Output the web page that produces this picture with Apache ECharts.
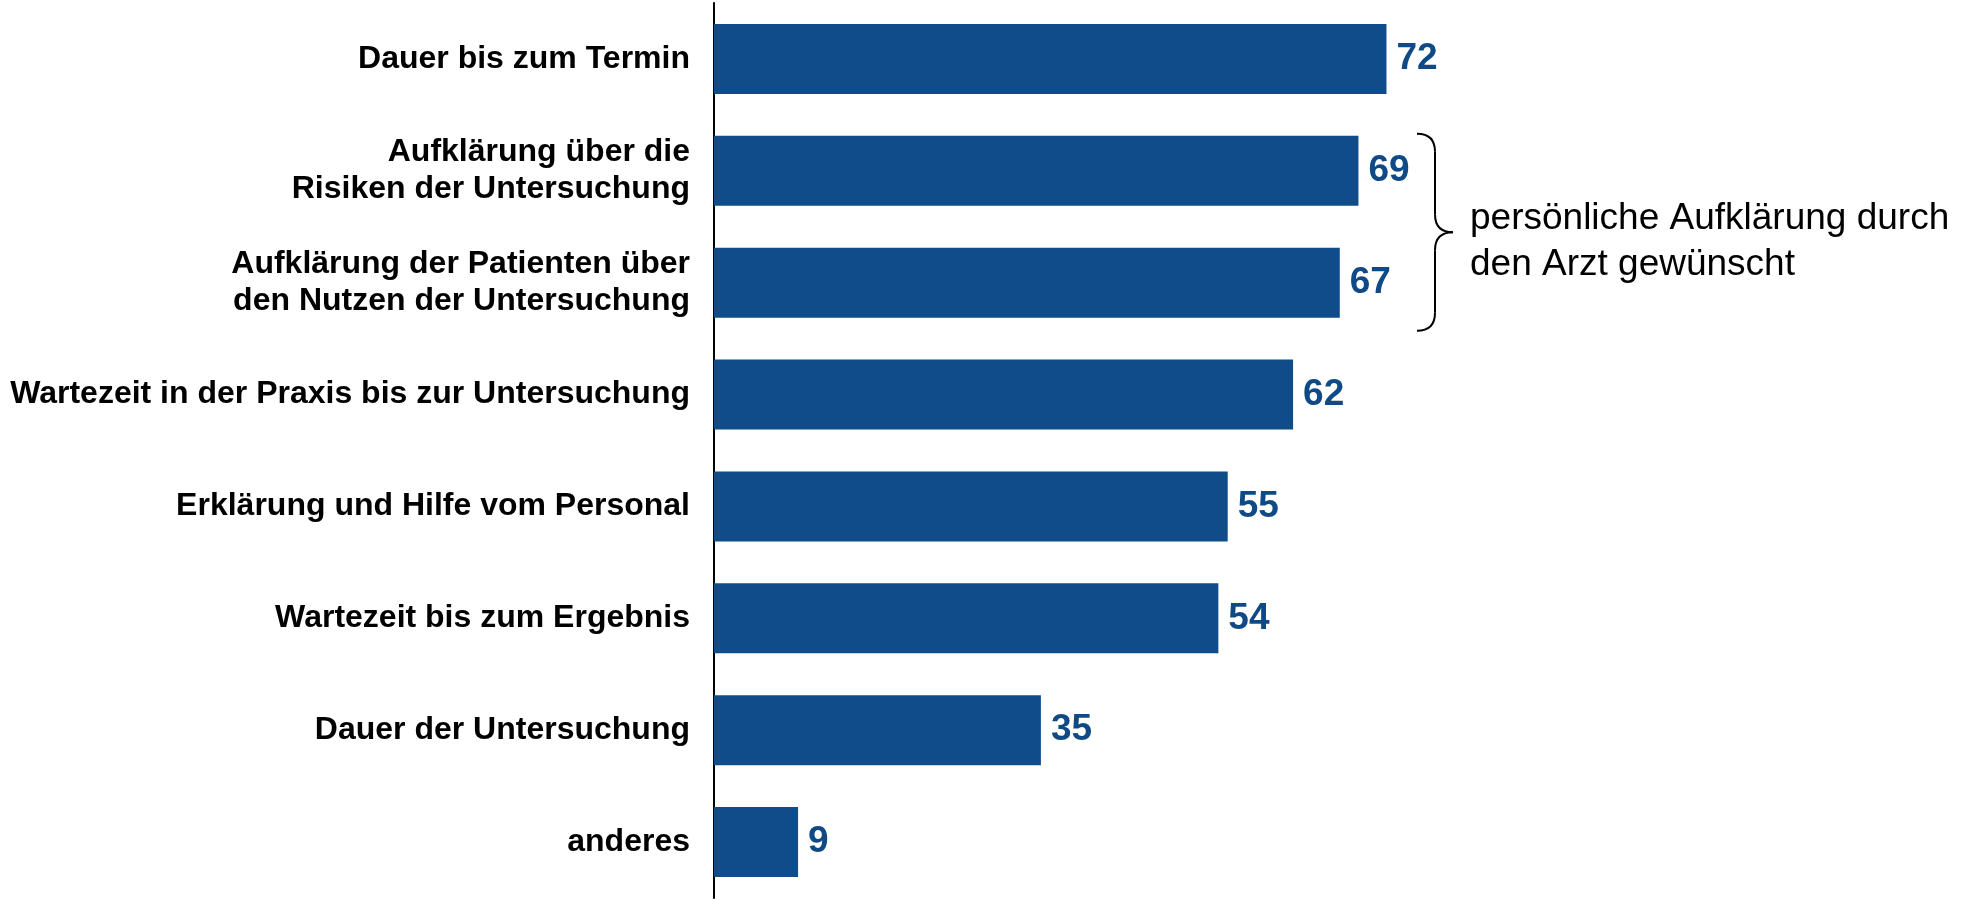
<!DOCTYPE html>
<html lang="de">
  <head>
    <meta charset="UTF-8" />
    <title>Wünsche an die Untersuchung</title>
    <script src="https://cdn.jsdelivr.net/npm/echarts@6/dist/echarts.min.js"></script>
    <style>
      html,
      body,
      #chart {
        width: 100%;
        height: 100%;
        margin: 0;
        padding: 0;
        overflow: hidden;
        background: #fff;
      }
    </style>
  </head>
  <body>
    <div id="chart"></div>
    <script>
      const categories = [
        "Dauer bis zum Termin",
        "Aufklärung über die\nRisiken der Untersuchung",
        "Aufklärung der Patienten über\nden Nutzen der Untersuchung",
        "Wartezeit in der Praxis bis zur Untersuchung",
        "Erklärung und Hilfe vom Personal",
        "Wartezeit bis zum Ergebnis",
        "Dauer der Untersuchung",
        "anderes",
      ];
      const values = [72, 69, 67, 62, 55, 54, 35, 9];
      const braceText = "persönliche Aufklärung durch\nden Arzt gewünscht";
      const braceFrom = 1; // index of first bracketed bar
      const braceTo = 2;

      const blue = "#0f4c89";
      const font = "'Liberation Sans', Arial, sans-serif";

      const myChart = echarts.init(document.getElementById("chart"));
      const option = {
        animation: false,
        grid: {
          left: 714,
          top: 3,
          width: 934,
          bottom: 2,
        },
        xAxis: {
          type: "value",
          min: 0,
          max: 100,
          show: false,
        },
        yAxis: {
          type: "category",
          inverse: true,
          data: categories,
          axisLine: { show: true, lineStyle: { color: "#000", width: 2 } },
          axisTick: { show: false },
          axisLabel: {
            margin: 24,
            fontFamily: font,
            fontWeight: "bold",
            fontSize: 32,
            lineHeight: 37,
            color: "#000",
            align: "right",
          },
        },
        series: [
          {
            type: "bar",
            data: values,
            barWidth: 70,
            itemStyle: { color: blue },
            label: {
              show: true,
              position: "right",
              distance: 10,
              fontFamily: font,
              fontWeight: "bold",
              fontSize: 37,
              color: "#0f4a86",
            },
          },
        ],
      };
      myChart.setOption(option);

      // curly brace + note next to the bracketed bars
      const c1 = myChart.convertToPixel({ yAxisIndex: 0 }, braceFrom);
      const c2 = myChart.convertToPixel({ yAxisIndex: 0 }, braceTo);
      const yTop = c1 - 37;
      const yBottom = c2 + 48;
      const yTip = (yTop + yBottom) / 2;
      const x0 = 1417, xs = 1435, xt = 1453, r = 18;
      const stroke = { stroke: "#000", lineWidth: 2, fill: "none" };
      const curve = (x1, y1, cx, cy, x2, y2) => ({
        type: "bezierCurve",
        shape: { x1: x1, y1: y1, cpx1: cx, cpy1: cy, x2: x2, y2: y2 },
        style: stroke,
      });
      const seg = (x1, y1, x2, y2) => ({
        type: "line",
        shape: { x1: x1, y1: y1, x2: x2, y2: y2 },
        style: stroke,
      });
      myChart.setOption({
        graphic: [
          curve(x0, yTop, xs, yTop, xs, yTop + r),
          seg(xs, yTop + r, xs, yTip - r),
          curve(xs, yTip - r, xs, yTip, xt, yTip),
          curve(xt, yTip, xs, yTip, xs, yTip + r),
          seg(xs, yTip + r, xs, yBottom - r),
          curve(xs, yBottom - r, xs, yBottom, x0, yBottom),
          {
            type: "text",
            x: 1470,
            y: yTip + 10,
            style: {
              text: braceText,
              font: `37px ${font}`,
              lineHeight: 46,
              fill: "#000",
              verticalAlign: "middle",
            },
          },
        ],
      });
    </script>
  </body>
</html>
